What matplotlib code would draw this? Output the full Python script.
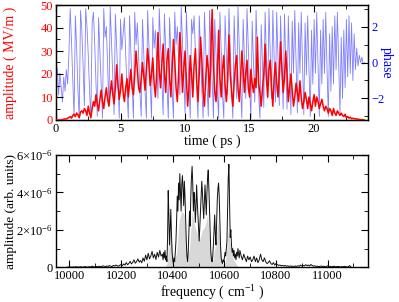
import numpy as np
import matplotlib
matplotlib.use("Agg")
import matplotlib.pyplot as plt
from matplotlib.ticker import MultipleLocator, FixedLocator, FixedFormatter

plt.rcParams['font.family'] = ['Liberation Serif', 'DejaVu Serif']
plt.rcParams['mathtext.fontset'] = 'custom'
plt.rcParams['mathtext.rm'] = 'Liberation Serif'
plt.rcParams['mathtext.it'] = 'Liberation Serif:italic'

# ---------------- top panel data (time step 0.1 ps) ----------------
time_start, time_step = 0.0, 0.1
amplitude_mvm = [
    0, 0, 0, 0, 0, 0.2, 0.3, 0.5, 0.4, 0.8,
    1.0, 1.5, 0.8, 2, 2.5, 1.5, 3, 2.2, 1, 3.5,
    4, 3, 5, 4, 2, 6, 3, 1, 5, 8,
    6, 11, 7, 4, 9, 13, 8, 5, 10, 14,
    9, 6, 12, 17, 11, 7, 14, 24, 15, 9,
    13, 20, 12, 8, 14, 18, 10, 16, 22, 14,
    11, 20, 30, 22, 14, 12, 18, 25, 19, 13,
    22, 31, 24, 15, 20, 27, 16, 10, 20, 38,
    22, 14, 24, 33, 20, 12, 26, 31, 18, 10,
    22, 35, 26, 14, 8, 20, 38, 28, 12, 22,
    30, 18, 6, 14, 28, 20, 10, 24, 31, 17,
    8, 20, 36, 26, 12, 6, 18, 28, 22, 10,
    30, 48, 24, 12, 8, 20, 39, 18, 10, 22,
    28, 15, 8, 18, 37, 20, 12, 6, 16, 24,
    28, 14, 8, 18, 30, 22, 12, 20, 26, 14,
    10, 22, 16, 12, 18, 14, 36, 16, 12, 6,
    14, 20, 33, 18, 10, 22, 26, 14, 6, 18,
    25, 16, 10, 20, 34, 22, 12, 18, 30, 20,
    8, 14, 20, 13, 6, 10, 16, 12, 8, 17,
    10, 5, 8, 12, 9, 5, 10, 7, 4, 8,
    11, 6, 10, 8, 5, 7, 9, 6, 4, 6,
    5, 3, 5, 4, 2, 5, 3, 2, 4, 3,
    2, 3, 2, 1.5, 2.5, 1, 1.5, 0.8, 1.2, 0.5,
    0.8, 0.5, 0.6, 0.3, 0.4, 0.2, 0.1, 0.2, 0.1, 0.0,
]
phase_rad = [
    -1.0, -0.3, -1.8, -0.6, -1.4, -2.2, -0.8, -1.6, -0.4, -1.2,
    0.5, 3.0, 1.2, -1.0, -3.0, 2.6, 0.8, -1.5, -3.1, 2.9,
    1.8, -0.2, -2.4, 3.0, 2.0, 0.4, -1.6, -3.1, 2.2, 2.8,
    1.0, -1.2, -3.0, 2.5, 0.6, -1.4, -3.1, 3.0, 1.4, 2.0,
    -0.2, -2.4, 3.1, 1.2, -0.8, -2.9, 2.7, 0.9, -1.0, -3.1,
    2.4, 0.7, 1.6, 2.5, 0.5, -1.5, -3.1, 2.6, 0.6, -1.4,
    -3.1, 2.8, 1.0, 2.2, 0.4, -1.6, -3.0, 2.4, 0.5, -1.6,
    -3.1, 2.9, 0.9, -1.2, -3.1, 2.5, 0.8, 1.8, 0.0, -2.0,
    3.0, 1.1, -0.9, -2.9, 2.7, 0.7, -1.3, -3.1, 2.5, 0.6,
    -1.5, -3.1, 2.8, 1.0, 2.0, 0.2, -1.8, 3.1, 1.2, -0.8,
    -2.8, 2.8, 0.8, -1.2, -3.1, 2.4, 1.6, 2.6, 0.6, -1.4,
    -3.1, 2.6, 0.6, -1.6, -3.1, 2.8, 0.8, -1.2, -3.0, 2.9,
    1.0, -1.0, -3.1, 2.4, 0.4, -1.6, -3.1, 2.8, 0.6, -1.8,
    -3.1, 2.6, 0.4, -1.8, 3.0, 0.8, -1.4, -3.1, 2.6, 0.2,
    -2.0, 3.1, 0.9, -1.4, -3.1, 2.4, 0.2, -2.0, 3.0, 0.8,
    -1.4, -3.1, 2.3, 0.0, -2.2, 2.9, 0.6, -1.7, -3.1, 2.1,
    -0.2, -2.5, 2.8, 0.4, -2.0, 3.0, 0.5, -2.0, 2.9, 0.3,
    -2.2, 2.8, 0.2, -2.4, 2.6, 0.0, -2.6, 2.7, 0.0, -2.6,
    2.6, -0.2, -2.9, 2.3, -0.6, 2.9, 0.1, -2.8, 2.2, -0.6,
    2.8, 0.0, -2.9, 2.2, -0.7, 2.6, -0.4, -3.0, 1.8, -1.2,
    2.4, -0.6, 2.8, -0.2, -3.0, 1.8, -1.2, 2.4, -0.6, 2.8,
    -0.4, -3.0, 1.6, -1.6, 2.0, -1.2, 2.6, -0.4, 2.8, 0.0,
    -2.8, 1.4, -2.0, 1.8, -1.4, 2.4, -0.8, 2.6, -0.6, 2.2,
    -1.0, 1.6, -0.4, 0.8, -0.2, 0.4, 0.0, 0.3, -0.1, 0.0,
]
time_ps = time_start + time_step * np.arange(len(amplitude_mvm))

# ---------------- bottom panel data (units of 1e-7) ----------------
spec_low = [  # 9990 .. 10355 step 5
    0.1, 0.1, 0.2, 0.1, 0.1, 0.2, 0.1, 0.3, 0.2, 0.1, 0.2, 0.3, 0.1, 0.2, 0.4, 0.2, 0.1, 0.3, 0.2, 0.4, 0.6, 0.2,
    0.3, 0.5, 0.2, 0.6, 0.3, 0.4, 0.8, 0.5, 0.3, 0.7, 0.5, 0.9, 0.6, 0.4, 1.0, 0.7, 1.2, 0.8, 0.6, 1.1,
    1.5, 0.9, 1.8, 1.2, 2.5, 1.4, 2.0, 3.2, 1.8, 2.6, 4.0, 2.2, 3.0, 4.5, 2.8, 3.6, 2.4, 5.0, 3.2, 6.5,
    4.0, 7.5, 4.5, 6.0, 8.5, 5.0, 7.0, 4.2, 8.0, 5.5, 9.0, 6.0,
]
spec_core = [  # 10360 .. 10657.5 step 2.5
    7, 4, 8, 5, 9, 4, 6, 3,
    15, 41, 28, 12, 20, 31, 18, 8,
    4, 2, 5, 3, 8, 14, 25, 38,
    30, 45, 36, 50, 40, 30, 44, 49,
    42, 33, 46, 38, 25, 14, 6, 3,
    8, 18, 30, 22, 38, 48, 54, 45,
    30, 40, 36, 24, 32, 44, 35, 28,
    20, 14, 22, 30, 38, 46, 40, 32,
    26, 35, 44, 36, 28, 40, 48, 52,
    42, 30, 18, 8, 4, 3, 6, 12,
    20, 28, 18, 12, 25, 36, 42, 45,
    38, 24, 12, 5, 3, 2, 4, 3,
    5, 8, 6, 10, 14, 30, 48, 55,
    35, 16, 20, 12, 8, 10, 6, 9,
    5, 7, 4, 8, 6, 10, 7, 5,
]
spec_high = [  # 10660 .. 11090 step 5
    9, 6, 4, 7, 5, 3, 6, 4, 5.5, 3,
    4, 6, 3, 5, 2.5, 4, 7, 4, 3, 5,
    3, 2, 2.5, 3.5, 2, 1.5, 2.5, 1.2, 2, 1.5,
    1, 1.2, 0.8, 1, 0.7, 1, 0.6, 0.8, 0.5, 0.7,
    0.5, 0.6, 0.4, 0.7, 0.5, 0.8, 0.6, 1.2, 0.7, 1.0,
    0.8, 1.4, 0.9, 1.2, 0.7, 1.5, 1.0, 0.6, 0.8, 0.5,
    0.6, 0.4, 0.5, 0.7, 0.4, 0.6, 0.3, 0.5, 0.8, 0.4,
    0.5, 0.3, 0.4, 0.6, 0.3, 0.4, 0.5, 0.3, 0.2, 0.4,
    0.3, 0.5, 0.3, 0.2, 0.3, 0.9, 0.2,
]
freq_cm = np.concatenate([
    9990 + 5 * np.arange(len(spec_low)),
    10360 + 2.5 * np.arange(len(spec_core)),
    10660 + 5 * np.arange(len(spec_high)),
])
spec_amp = np.array(spec_low + spec_core + spec_high) * 1e-7

env_freq = [10370, 10380, 10385, 10395, 10405, 10415, 10425, 10435, 10445, 10455,
            10465, 10475, 10485, 10495, 10505, 10515, 10525, 10535, 10545, 10555,
            10565, 10575, 10585, 10595, 10605, 10615, 10625, 10635, 10645, 10655]
env_amp = np.array([0, 3, 20, 15, 2, 8, 25, 30, 28, 3,
                    10, 30, 22, 18, 15, 20, 22, 28, 10, 3,
                    12, 25, 10, 1, 3, 20, 10, 4, 2, 0]) * 1e-7

ytick_vals = [0, 2e-6, 4e-6, 6e-6]
ytick_labels = ['0', r'2$\times$10$^{-6}$', r'4$\times$10$^{-6}$', r'6$\times$10$^{-6}$']

# ---------------- figure ----------------
W, H = 399, 302
fig = plt.figure(figsize=(W / 100, H / 100), dpi=100)
TICK_FS = 9
LABEL_FS = 10
ax_w = 311.7

ax1 = fig.add_axes([56 / W, 1 - 120 / H, ax_w / W, 115 / H])
ax2 = ax1.twinx()
ax2.plot(time_ps, phase_rad, color='#2a2aff', lw=0.6, alpha=0.6, zorder=1)
ax1.set_zorder(ax2.get_zorder() + 1)
ax1.patch.set_visible(False)
ax1.plot(time_ps, amplitude_mvm, color='red', lw=1.1, zorder=3)

ax1.set_xlim(0, 24.15)
ax1.set_ylim(0, 50)
ax2.set_ylim(-3.2, 3.2)
ax1.xaxis.set_major_locator(MultipleLocator(5))
ax1.xaxis.set_minor_locator(MultipleLocator(2.5))
ax1.yaxis.set_major_locator(MultipleLocator(10))
ax1.yaxis.set_minor_locator(MultipleLocator(5))
ax2.yaxis.set_major_locator(MultipleLocator(2))
ax2.yaxis.set_minor_locator(MultipleLocator(1))
ax1.tick_params(axis='both', which='both', direction='in', top=True, labelsize=TICK_FS, pad=2)
ax1.tick_params(axis='y', labelcolor='red')
ax1.tick_params(which='major', length=5)
ax1.tick_params(which='minor', length=3)
ax2.tick_params(axis='y', which='both', direction='in', labelsize=TICK_FS, labelcolor='blue', pad=3)
ax2.tick_params(which='major', length=5)
ax2.tick_params(which='minor', length=3)
ax1.set_xlabel('time ( ps )', fontsize=LABEL_FS, labelpad=0)
ax1.set_ylabel('amplitude ( MV/m )', fontsize=LABEL_FS, color='red')
ax1.yaxis.set_label_coords((17 - 56) / ax_w, 0.5)
ax2.set_ylabel('phase', fontsize=LABEL_FS, color='blue', rotation=270, va='center')
ax2.yaxis.set_label_coords((386 - 56) / ax_w, 0.5)
for sp in ax1.spines.values():
    sp.set_linewidth(1.0)

ax3 = fig.add_axes([56 / W, 1 - 267.3 / H, ax_w / W, 112.3 / H])
ax3.fill_between(env_freq, 0, env_amp, color='#d8d8d8', lw=0, zorder=1)
ax3.plot(freq_cm, spec_amp, color='#111111', lw=0.7, zorder=2)
ax3.set_xlim(9948, 11155)
ax3.set_ylim(0, 6e-6)
ax3.xaxis.set_major_locator(MultipleLocator(200))
ax3.xaxis.set_minor_locator(MultipleLocator(100))
ax3.yaxis.set_major_locator(FixedLocator(ytick_vals))
ax3.yaxis.set_major_formatter(FixedFormatter(ytick_labels))
ax3.yaxis.set_minor_locator(MultipleLocator(1e-6))
ax3.tick_params(axis='both', which='both', direction='in', top=True, right=True, labelsize=TICK_FS, pad=2)
ax3.tick_params(which='major', length=5)
ax3.tick_params(which='minor', length=3)
ax3.set_xlabel('frequency ( cm$^{-1}$ )', fontsize=LABEL_FS, labelpad=1)
ax3.set_ylabel('amplitude (arb. units)', fontsize=9.5)
ax3.yaxis.set_label_coords((17 - 56) / ax_w, 0.5)
for sp in ax3.spines.values():
    sp.set_linewidth(1.0)

fig.savefig('out.png', dpi=100)
